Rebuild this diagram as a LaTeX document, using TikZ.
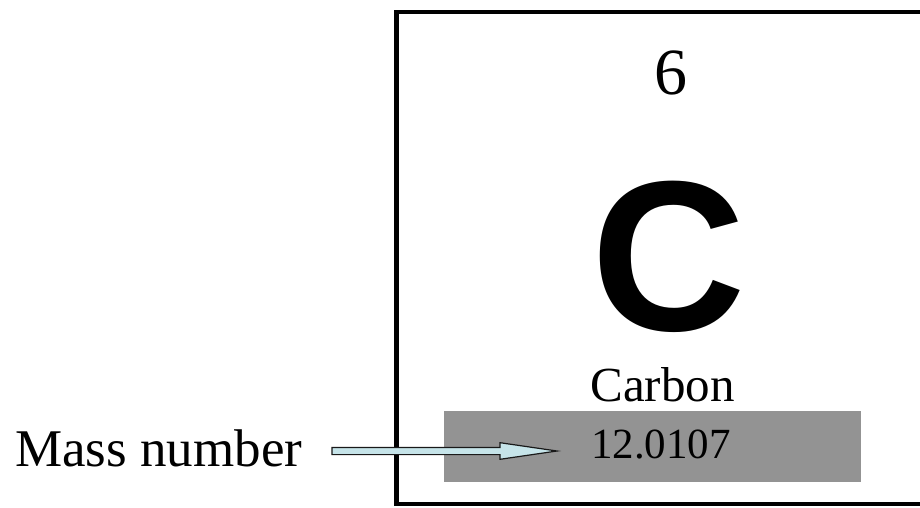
\documentclass[tikz,border=0pt]{standalone}
\usepackage{fontspec}
\setmainfont{Liberation Serif}
\newfontfamily\symfont{Liberation Sans}
\usepackage{tikz}
\usetikzlibrary{positioning, calc}
\definecolor{massgray}{RGB}{147,147,147}
\definecolor{arrowcyan}{RGB}{198,228,233}
\tikzset{
  frame/.style    = {draw, line width=4.5pt},
  massbar/.style  = {fill=massgray, draw=none},
  elemtext/.style = {anchor=base, inner sep=0pt},
  massarrow/.style= {draw=black!90, line width=1.2pt, fill=arrowcyan, line join=miter}
}
\begin{document}
\begin{tikzpicture}[x=1pt, y=1pt]
        \clip (0,0) rectangle (920,507);
        \useasboundingbox (0,0) rectangle (920,507);
        % element tile, cut off on the right
        \draw[frame] (396.5,3) rectangle (960,495);
        \fill[massbar] (444,25.3) rectangle (861,96);
        \node[elemtext, font=\fontsize{66}{70}\selectfont] (num)  at (671,412)   {6};
        \node[elemtext, font=\symfont\bfseries\fontsize{214}{220}\selectfont] (sym) at (669,176.6) {C};
        \node[elemtext, font=\fontsize{49}{54}\selectfont] (name) at (662.5,105.3) {Carbon};
        \node[elemtext, font=\fontsize{43}{48}\selectfont] (mass) at (661,48.7)  {12.0107};
        % label and arrow
        \node[anchor=base west, inner sep=0pt, font=\fontsize{53}{57}\selectfont] (lbl) at (15,40.3) {Mass number};
        \coordinate (tail) at (332,56);
        \coordinate (tip)  at (557,56);
        \draw[massarrow] ($(tail)+(0,3.6)$) -- ($(tip)+(-57,3.6)$) -- ($(tip)+(-57,8.3)$) -- (tip)
          -- ($(tip)+(-57,-8.3)$) -- ($(tip)+(-57,-3.6)$) -- ($(tail)+(0,-3.6)$) -- cycle;
      \end{tikzpicture}
\end{document}
